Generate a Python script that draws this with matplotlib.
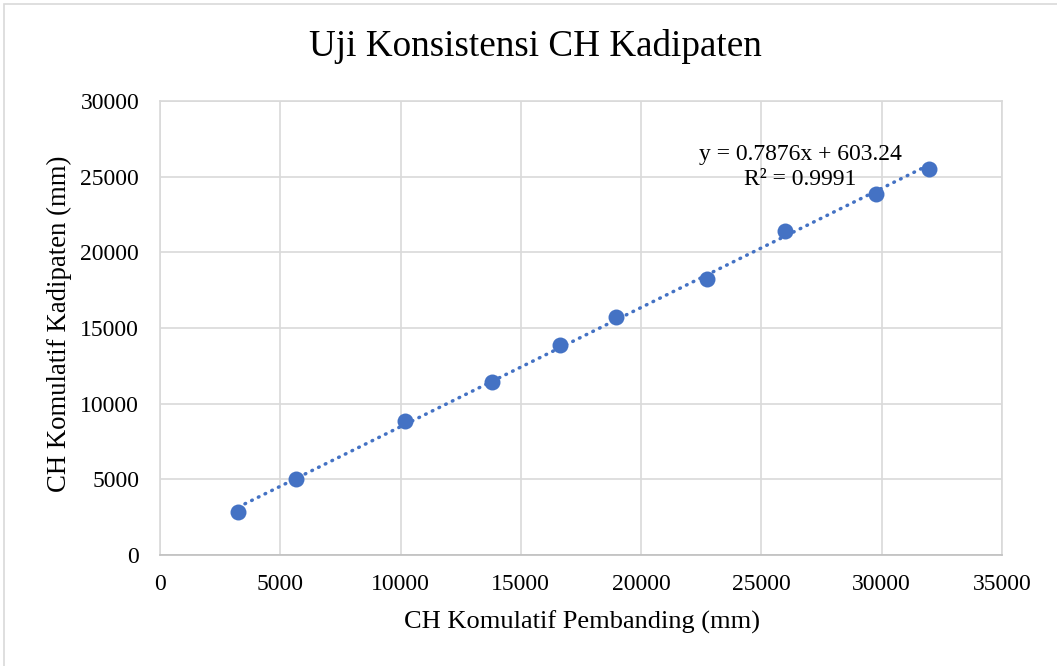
import matplotlib
matplotlib.use("Agg")
import matplotlib.pyplot as plt
from matplotlib.patches import Rectangle
import numpy as np

plt.rcParams['font.family'] = ['Liberation Serif', 'DejaVu Serif']

# Data
ch_pembanding = [3254, 5640, 10196, 13812, 16613, 18953, 22748, 25977, 29759, 31948]
ch_kadipaten = [2860, 5000, 8851, 11407, 13871, 15700, 18250, 21420, 23864, 25515]
slope = 0.7876
intercept = 603.24
r2 = 0.9991

title = "Uji Konsistensi CH Kadipaten"
xlabel = "CH Komulatif Pembanding (mm)"
ylabel = "CH Komulatif Kadipaten (mm)"
xticks = [0, 5000, 10000, 15000, 20000, 25000, 30000, 35000]
yticks = [0, 5000, 10000, 15000, 20000, 25000, 30000]

W, H = 1057, 666
fig = plt.figure(figsize=(W / 100, H / 100), dpi=100)
fig.patch.set_facecolor('white')
ax = fig.add_axes([160 / W, 1 - 555 / H, (1002 - 160) / W, (555 - 101) / H])

blue = '#4472C4'
grid = '#D9D9D9'

# trendline
xs = np.array([min(ch_pembanding), max(ch_pembanding)])
ax.plot(xs, slope * xs + intercept, color=blue, lw=2.5,
        dashes=(0.2, 1.95), dash_capstyle='round', zorder=3)
ax.plot(ch_pembanding, ch_kadipaten, 'o', color=blue, markersize=11.5,
        markeredgewidth=0, zorder=4)

ax.set_xlim(0, 35000)
ax.set_ylim(0, 30000)
ax.set_xticks(xticks)
ax.set_yticks(yticks)
ax.set_xticklabels([str(v) for v in xticks])
ax.set_yticklabels([str(v) for v in yticks])
ax.tick_params(length=0, labelsize=17, colors='black')
ax.tick_params(axis='x', pad=14)
ax.tick_params(axis='y', pad=15)
ax.grid(True, color=grid, lw=1.2)
ax.set_axisbelow(True)
for s in ax.spines.values():
    s.set_color(grid)
    s.set_linewidth(1.2)
ax.spines['bottom'].set_color('#BFBFBF')

ax.text(26640, 26450, f"y = {slope}x + {intercept}", ha='center', va='center', fontsize=17)
ax.text(26600, 24780, f"R² = {r2}", ha='center', va='center', fontsize=17)

fig.text(535 / W, 1 - 46 / H, title, ha='center', va='center', fontsize=26.7)
fig.text(581.5 / W, 1 - 622 / H, xlabel, ha='center', va='center', fontsize=19)
fig.text(59 / W, 1 - 324 / H, ylabel, ha='center', va='center', fontsize=19.3, rotation=90)

fig.add_artist(Rectangle((4 / W, -0.1), 1.2, 1 - 4 / H + 0.1, transform=fig.transFigure,
                         fill=False, edgecolor=grid, lw=1.2))

fig.savefig('out.png', dpi=100)
